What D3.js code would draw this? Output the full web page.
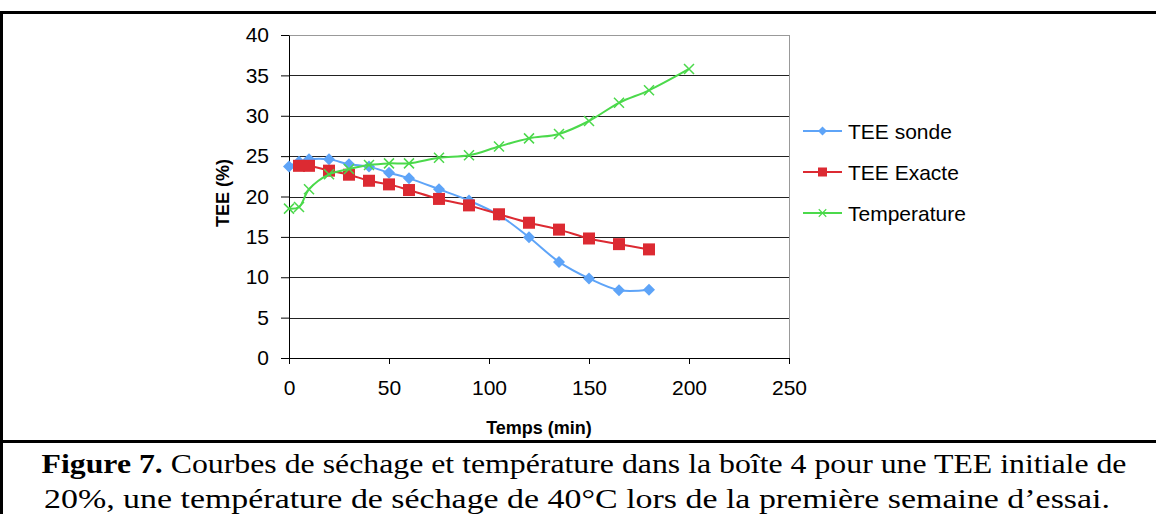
<!DOCTYPE html>
<html>
<head>
<meta charset="utf-8">
<script src="https://cdn.jsdelivr.net/npm/d3@7"></script>
<style>
  body { margin: 0; background: #fff; }
  svg { display: block; }
</style>
</head>
<body>
<div id="plot"></div>
<script>
// chart values
const sonde_x = [0, 5, 10, 20, 30, 40, 50, 60, 75, 90, 105, 120, 135, 150, 165, 180];
const sonde_y = [23.7, 24.3, 24.6, 24.6, 24.0, 23.7, 22.95, 22.25, 20.9, 19.5, 17.7, 14.95, 11.9, 9.85, 8.4, 8.45];
const exacte_x = [5, 10, 20, 30, 40, 50, 60, 75, 90, 105, 120, 135, 150, 165, 180];
const exacte_y = [23.8, 23.8, 23.2, 22.7, 21.95, 21.5, 20.8, 19.7, 18.9, 17.8, 16.75, 15.9, 14.8, 14.1, 13.45];
const temp_x = [0, 5, 10, 20, 30, 40, 50, 60, 75, 90, 105, 120, 135, 150, 165, 180, 200];
const temp_y = [18.5, 18.7, 20.9, 22.75, 23.4, 23.9, 24.1, 24.1, 24.8, 25.1, 26.2, 27.2, 27.75, 29.35, 31.6, 33.15, 35.8];
const series_names = ["TEE sonde", "TEE Exacte", "Temperature"];
const x_ticks = [0, 50, 100, 150, 200, 250];
const y_ticks = [0, 5, 10, 15, 20, 25, 30, 35, 40];

const colors = {"TEE sonde": "#5ea4f8", "TEE Exacte": "#dc2a32", "Temperature": "#4bd94b"};
const sans = "'Liberation Sans', Arial, sans-serif";

const total_width = 1156
const total_height = 514
const margin = {left: 289, top: 35, right: 367, bottom: 156}
var width = total_width - margin.left - margin.right
var height = total_height - margin.top - margin.bottom

var root = d3.select("#plot").append("svg")
  .attr("width", total_width)
  .attr("height", total_height);

// figure frame
root.append("path")
  .attr("d", "M1.5,520 V12.5 H1160")
  .attr("fill", "none").attr("stroke", "#000").attr("stroke-width", 3);
root.append("line").attr("x1", 0).attr("x2", 1160).attr("y1", 441.5).attr("y2", 441.5)
  .attr("stroke", "#000").attr("stroke-width", 3);

var svg = root.append("g")
  .attr("transform", "translate(" + margin.left + "," + margin.top + ")");

var x = d3.scaleLinear().domain([0, 250]).range([0, width]);
var y = d3.scaleLinear().domain([0, 40]).range([height, 0]);

// gridlines
svg.append("g").selectAll("line").data(y_ticks.filter(function(d) { return d > 0; })).enter().append("line")
  .attr("x1", 0).attr("x2", width)
  .attr("y1", function(d) { return Math.round(y(d)) + 0.5; })
  .attr("y2", function(d) { return Math.round(y(d)) + 0.5; })
  .attr("stroke", function(d) { return d == 40 ? "#999" : "#222"; });
svg.append("line").attr("x1", width + 0.5).attr("x2", width + 0.5).attr("y1", 0).attr("y2", height)
  .attr("stroke", "#999");

var xAxis = d3.axisBottom(x).tickValues(x_ticks).tickSize(6).tickSizeOuter(0);
svg.append("g").attr("transform", "translate(0," + height + ")").call(xAxis)
  .call(function(g) {
    g.select(".domain").attr("stroke", "#000");
    g.selectAll("text").attr("font-family", sans).attr("font-size", 21).attr("fill", "#000").attr("y", 22);
  });

var yAxis = d3.axisLeft(y).tickValues(y_ticks).tickSize(8).tickSizeOuter(0);
svg.append("g").call(yAxis)
  .call(function(g) {
    g.select(".domain").attr("stroke", "#000");
    g.selectAll("text").attr("font-family", sans).attr("font-size", 21).attr("fill", "#000").attr("x", -20);
  });

// axis titles
svg.append("text").attr("x", width / 2).attr("y", 399).attr("text-anchor", "middle")
  .attr("font-family", sans).attr("font-weight", "bold").attr("font-size", 18)
  .text("Temps (min)");
svg.append("text").attr("transform", "translate(-60," + 158 + ") rotate(-90)")
  .attr("text-anchor", "middle")
  .attr("font-family", sans).attr("font-weight", "bold").attr("font-size", 18)
  .text("TEE (%)");

var data = [
  {name: "TEE sonde", xs: sonde_x, ys: sonde_y, marker: "diamond"},
  {name: "TEE Exacte", xs: exacte_x, ys: exacte_y, marker: "square"},
  {name: "Temperature", xs: temp_x, ys: temp_y, marker: "cross"}
];

var line = d3.line()
  .x(function(d) { return x(d[0]); })
  .y(function(d) { return y(d[1]); })
  .curve(d3.curveCatmullRom.alpha(0.5));

function draw_marker(g, kind, color) {
  if (kind == "diamond") {
    g.append("path").attr("d", "M0,-6 L6,0 L0,6 L-6,0 Z").attr("fill", color);
  } else if (kind == "square") {
    g.append("rect").attr("x", -6).attr("y", -6).attr("width", 12).attr("height", 12).attr("fill", color);
  } else {
    g.append("path").attr("d", "M-5,-5 L5,5 M-5,5 L5,-5").attr("stroke", color).attr("stroke-width", 1.5).attr("fill", "none");
  }
}

data.forEach(function(s) {
  var pts = s.xs.map(function(v, i) { return [v, s.ys[i]]; });
  svg.append("path").datum(pts).attr("d", line)
    .attr("fill", "none").attr("stroke", colors[s.name]).attr("stroke-width", 2);
  pts.forEach(function(p) {
    var g = svg.append("g").attr("transform", "translate(" + x(p[0]) + "," + y(p[1]) + ")");
    draw_marker(g, s.marker, colors[s.name]);
  });
});

// legend
var legend = root.append("g").attr("transform", "translate(803,131)");
series_names.forEach(function(name, i) {
  var s = data[i];
  var g = legend.append("g").attr("transform", "translate(0," + (i * 41) + ")");
  g.append("line").attr("x1", 0).attr("x2", 39).attr("y1", 0).attr("y2", 0)
    .attr("stroke", colors[name]).attr("stroke-width", 2);
  var m = g.append("g").attr("transform", "translate(19.5,0) scale(0.75)");
  draw_marker(m, s.marker, colors[name]);
  g.append("text").attr("x", 45).attr("y", 0).attr("dy", "0.36em")
    .attr("font-family", sans).attr("font-size", 21)
    .text(name);
});

// caption (the source figure is stretched a little horizontally)
var cap = root.append("g").attr("font-family", "'Liberation Serif', 'Times New Roman', serif").attr("font-size", 28).attr("text-anchor", "middle");
var t1 = cap.append("text").attr("x", 584).attr("y", 473)
  .attr("textLength", 1085).attr("lengthAdjust", "spacingAndGlyphs");
t1.append("tspan").attr("font-weight", "bold").text("Figure 7.");
t1.append("tspan").text(" Courbes de séchage et température dans la boîte 4 pour une TEE initiale de");
cap.append("text").attr("x", 577).attr("y", 508)
  .attr("textLength", 1066).attr("lengthAdjust", "spacingAndGlyphs")
  .text("20%, une température de séchage de 40°C lors de la première semaine d’essai.");
</script>
</body>
</html>
